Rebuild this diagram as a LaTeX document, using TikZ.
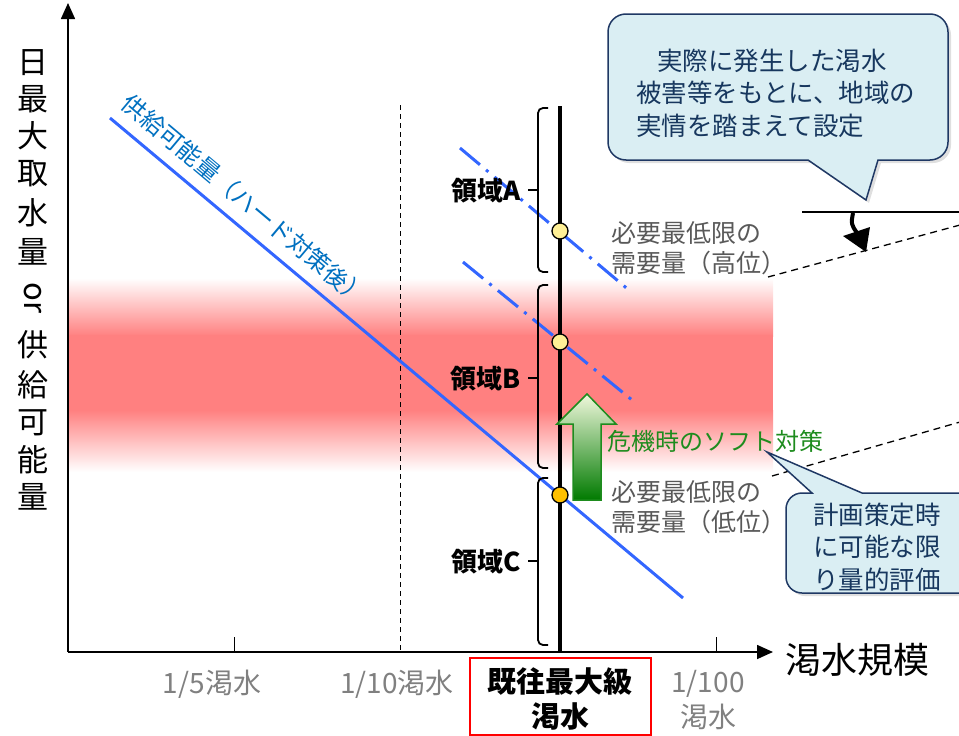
\documentclass[tikz,border=0pt]{standalone}
\usepackage{fontspec}
\setmainfont{Noto Sans CJK JP}
\usetikzlibrary{arrows.meta,shadows}
\definecolor{bandred}{RGB}{255,128,128}
\definecolor{lineblue}{RGB}{51,102,255}
\definecolor{textblue}{RGB}{0,112,192}
\definecolor{callfill}{RGB}{218,238,243}
\definecolor{calldraw}{RGB}{31,56,100}
\definecolor{calltext}{RGB}{23,55,94}
\definecolor{greytext}{RGB}{89,89,89}
\definecolor{ticktext}{RGB}{128,128,128}
\definecolor{softgreen}{RGB}{30,140,30}
\definecolor{dotyellow}{RGB}{255,240,150}
\definecolor{dotorange}{RGB}{255,192,0}
\definecolor{arrtop}{RGB}{240,248,220}
\definecolor{arrmid}{RGB}{76,187,23}
\definecolor{arrbot}{RGB}{0,122,0}
\begin{document}
\begin{tikzpicture}[x=1pt,y=-1pt,
  axisline/.style={line width=1.6pt,-{Triangle[length=16pt,width=14pt]}},
  bracket/.style={line width=1.8pt,rounded corners=5pt},
  supply/.style={lineblue,line width=3pt},
  demand/.style={lineblue,line width=3pt,dash pattern=on 26pt off 8pt on 3pt off 8pt},
  dotY/.style={circle,draw=black,line width=1.3pt,fill=dotyellow,minimum size=16pt,inner sep=0pt},
  dotO/.style={circle,draw=black,line width=1.3pt,fill=dotorange,minimum size=16pt,inner sep=0pt},
  callout/.style={fill=callfill,draw=calldraw,line width=1.5pt,drop shadow={opacity=0.25,shadow xshift=3pt,shadow yshift=-3pt}},
  calltxt/.style={text=calltext,font=\fontsize{25.5}{32.5}\selectfont,inner sep=0pt},
  needlbl/.style={text=greytext,font=\fontsize{25}{30}\selectfont,align=left,anchor=west,inner sep=0pt},
  ticklbl/.style={text=ticktext,font=\fontsize{28}{35}\selectfont,align=center,inner sep=0pt},
  arealbl/.style={font=\bfseries\fontsize{26}{26}\selectfont,anchor=east,inner sep=0pt},
  ychar/.style={font=\fontsize{31}{31}\selectfont,inner sep=0pt},
  guide/.style={line width=1.3pt,dash pattern=on 7pt off 5pt}
]
\useasboundingbox (0,0) rectangle (959,736);
\clip (0,0) rectangle (959,736);

% red band
\fill[top color=white,bottom color=bandred] (68,278) rectangle (773,336);
\fill[bandred] (68,335) rectangle (773,411);
\fill[top color=bandred,bottom color=white] (68,410) rectangle (773,472);

% axes
\coordinate (O) at (68,652);
\coordinate (ytip) at (68,3);
\coordinate (xtip) at (773,652);
\draw[axisline] (O) -- (ytip);
\draw[axisline] (O) -- (xtip);
\coordinate (t1) at (234,652); \coordinate (t1u) at (234,637);
\coordinate (t4) at (716,652); \coordinate (t4u) at (716,637);
\draw[line width=1pt] (t1) -- (t1u);
\draw[line width=1pt] (t4) -- (t4u);
\coordinate (v10a) at (400,105); \coordinate (v10b) at (400,652);
\draw[line width=1pt,dash pattern=on 5pt off 4pt] (v10a) -- (v10b);

% supply line
\coordinate (s1) at (110,118); \coordinate (s2) at (683,598);
\draw[supply] (s1) -- (s2);
\node[text=textblue,font=\fontsize{24}{24}\selectfont,rotate=-40] (slbl) at (245,200) {供給可能量（ハード対策後）};

% demand lines
\coordinate (d1a) at (460,148); \coordinate (d1b) at (630,291);
\coordinate (d2a) at (463,262); \coordinate (d2b) at (632,400);
\draw[demand] (d1a) -- (d1b);
\draw[demand] (d2a) -- (d2b);

% thick vertical line
\coordinate (va) at (560,106); \coordinate (vb) at (560,652);
\draw[line width=4pt] (va) -- (vb);

% brackets
\draw[bracket] (548,108) -- (538,108) -- (538,272) -- (548,272);
\draw[line width=1.8pt] (538,190) -- (528,190);
\draw[bracket] (548,285) -- (538,285) -- (538,468) -- (548,468);
\draw[line width=1.8pt] (538,378) -- (528,378);
\draw[bracket] (548,478) -- (538,478) -- (538,645) -- (548,645);
\draw[line width=1.8pt] (538,561) -- (528,561);
\node[arealbl] (lA) at (521,191) {領域A};
\node[arealbl] (lB) at (521,379) {領域B};
\node[arealbl] (lC) at (521,562) {領域C};

% dots
\node[dotY] (p1) at (560,231) {};
\node[dotY] (p2) at (560,342) {};
\node[dotO] (p3) at (560,495) {};

% green arrow
\shade[top color=arrtop,middle color=arrmid,bottom color=arrbot,draw=softgreen,line width=1.5pt]
  (573,500) -- (573,424) -- (557,424) -- (587,394) -- (616,424) -- (601,424) -- (601,500) -- cycle;
\node[text=softgreen,font=\fontsize{24}{24}\selectfont,anchor=west,inner sep=0pt] (soft) at (607,441) {危機時のソフト対策};

% demand labels
\node[needlbl] (hi) at (611,248) {必要最低限の\\需要量（高位）};
\node[needlbl] (lo) at (611,507) {必要最低限の\\需要量（低位）};

% guide lines right
\coordinate (g1a) at (802,212); \coordinate (g1b) at (960,212);
\draw[line width=1.3pt] (g1a) -- (g1b);
\coordinate (g2a) at (768,277); \coordinate (g2b) at (960,225);
\draw[guide] (g2a) -- (g2b);
\coordinate (g3a) at (772,476); \coordinate (g3b) at (960,422);
\draw[guide] (g3a) -- (g3b);
% curved down arrow
\coordinate (ca) at (853,213); \coordinate (cm) at (857,233); \coordinate (cb) at (866,252);
\draw[line width=4pt] (ca) .. controls (851,224) .. (cm);
\fill (cb) -- (843,236) -- (870,227) -- cycle;

% top callout
\draw[callout] (808,160) [rounded corners=18pt] -- (608,160) -- (608,14) -- (948,14) -- (948,160) [sharp corners] -- (878,160) -- (866,200) -- cycle;
\node[calltxt,align=left,anchor=west] (c1) at (636,93) {\hspace*{21pt}実際に発生した渇水\\被害等をもとに、地域の\\実情を踏まえて設定};

% lower callout
\draw[callout] (862,493) [rounded corners=16pt] -- (990,493) -- (990,593) -- (786,593) -- (786,493) [sharp corners] -- (812,493) -- (767,452) -- cycle;
\node[calltxt,align=center] (c2) at (877,547) {計画策定時\\に可能な限\\り量的評価};

% y label
\node[ychar] (y1) at (33,63) {日};
\node[ychar] (y2) at (33,99) {最};
\node[ychar] (y3) at (33,136) {大};
\node[ychar] (y4) at (33,174) {取};
\node[ychar] (y5) at (33,213) {水};
\node[ychar] (y6) at (33,252) {量};
\node[ychar,rotate=-90] (y7) at (33,298) {or};
\node[ychar] (y8) at (33,345) {供};
\node[ychar] (y9) at (33,385) {給};
\node[ychar] (y10) at (33,423) {可};
\node[ychar] (y11) at (33,460) {能};
\node[ychar] (y12) at (33,497) {量};

% x labels
\node[font=\fontsize{36}{36}\selectfont,anchor=west,inner sep=0pt] (xlbl) at (785,660) {渇水規模};
\node[ticklbl] (x1) at (212,684) {1/5渇水};
\node[ticklbl] (x2) at (397,684) {1/10渇水};
\node[ticklbl] (x4) at (708,700) {1/100\\渇水};
\draw[red,line width=2pt] (470,658) rectangle (651,735);
\node[font=\bfseries\fontsize{29}{35}\selectfont,align=center,inner sep=0pt] (x3) at (560,699) {既往最大級\\渇水};
\end{tikzpicture}
\end{document}
